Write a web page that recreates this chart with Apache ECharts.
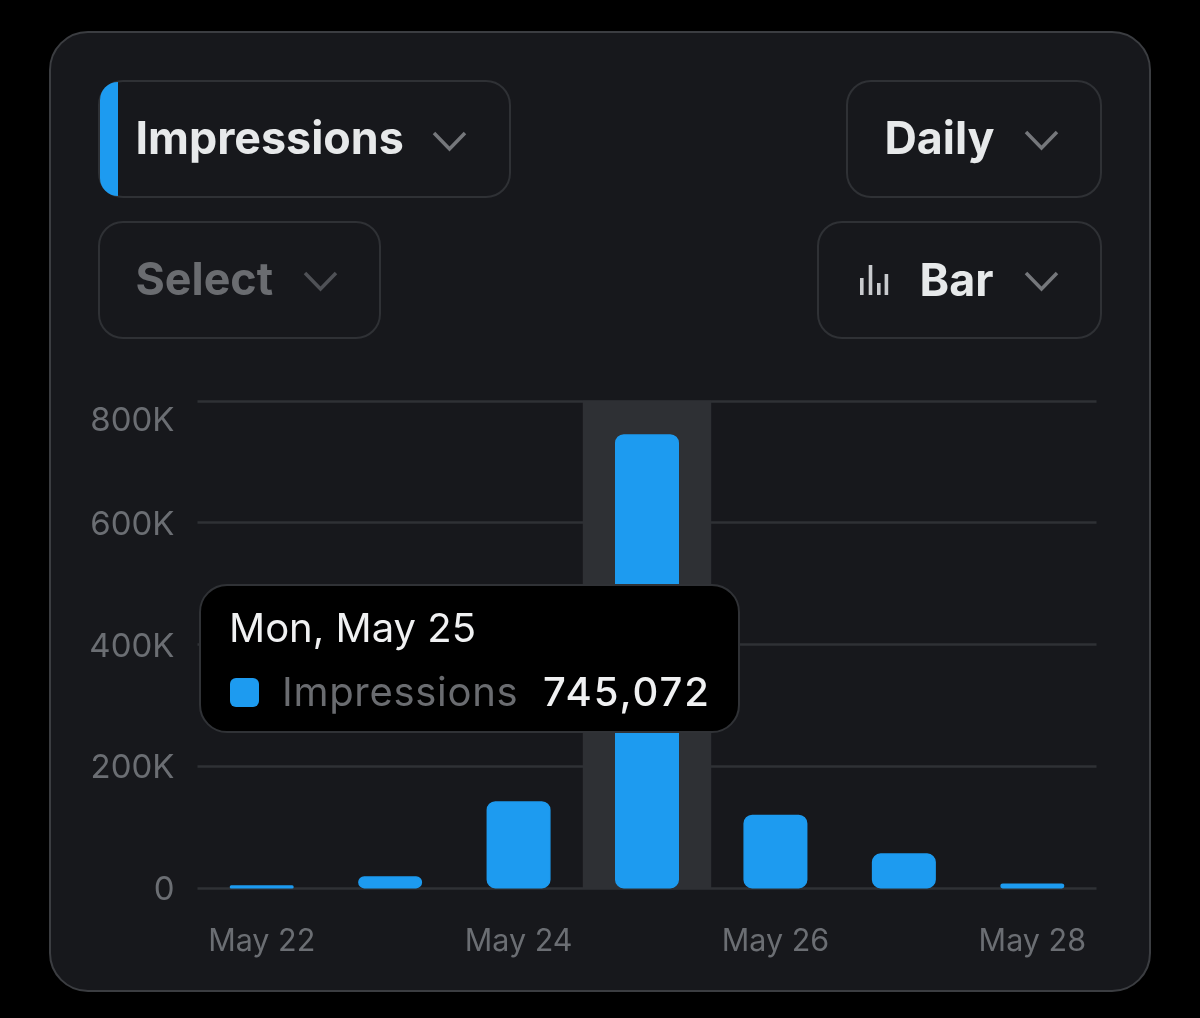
<!DOCTYPE html>
<html>
<head>
<meta charset="utf-8">
<style>html,body{margin:0;padding:0;background:#000}#c{width:1200px;height:1018px}</style>
<script src="https://cdn.jsdelivr.net/npm/echarts@6/dist/echarts.min.js"></script>
</head>
<body>
<div id="c"></div>
<script>
const categories = ['May 22','May 23','May 24','May 25','May 26','May 27','May 28'];
const impressions = [5000,20000,143000,745072,121000,57500,8000];
const yTickLabels = ['0','200K','400K','600K','800K'];
const seriesName = 'Impressions';
const tooltipTitle = 'Mon, May 25';
const activeIndex = 3;
const dropdownLabels = ['Impressions','Select','Daily','Bar'];

const FONT = 'Inter, "Noto Sans", sans-serif';
const BLUE = '#1d9bf0';
const box = (x,y,w,h) => ({type:'rect',silent:true,shape:{x,y,width:w,height:h,r:24},style:{fill:'#17181c',stroke:'#2f3135',lineWidth:2}});
const label = (t,x,y,fill) => ({type:'text',silent:true,x,y,style:{text:t,fill,font:'700 44.8px '+FONT,textVerticalAlign:'middle'}});
const chev = (x,y,stroke) => ({type:'polyline',silent:true,shape:{points:[[x,y],[x+15.5,y+16],[x+31,y]]},style:{stroke,lineWidth:3.5,fill:null}});
const iconBar = (x,top) => ({type:'rect',silent:true,shape:{x,y:top,width:3.6,height:295-top},style:{fill:'#c9cbce'}});
const tickText = {color:'#6b6e73',fontFamily:FONT,fontSize:33};

const chart = echarts.init(document.getElementById('c'),null,{width:1200,height:1018});
chart.setOption({
  animation:false,
  backgroundColor:'#000',
  graphic:{elements:[
    {type:'rect',silent:true,z:-10,shape:{x:50,y:32,width:1100,height:959,r:38},style:{fill:'#17181c',stroke:'#3b3d41',lineWidth:2}},
    box(99,81,411,116), box(99,222,281,116), box(847,81,254,116), box(818,222,283,116),
    {type:'rect',silent:true,shape:{x:100,y:82,width:18,height:114,r:[22,0,0,22]},style:{fill:BLUE}},
    label(dropdownLabels[0],135.5,141,'#e7e9ea'),
    label(dropdownLabels[1],135.5,282,'#6a6c70'),
    label(dropdownLabels[2],884.5,141,'#e7e9ea'),
    label(dropdownLabels[3],919.5,283,'#e7e9ea'),
    chev(434,133,'#75777b'), chev(305,273,'#4f5156'), chev(1026,132,'#75777b'), chev(1026,273,'#75777b'),
    iconBar(860,278), iconBar(868.7,265), iconBar(877,283), iconBar(884.6,274)
  ]},
  grid:{left:197.5,top:400.8,width:899,height:487.6,containLabel:false},
  xAxis:{type:'category',data:categories,
    axisLine:{show:false},axisTick:{show:false},
    axisLabel:{interval:1,color:'#6b6e73',fontFamily:FONT,fontSize:30.5,margin:35,lineHeight:36}},
  yAxis:{type:'value',min:0,max:800000,interval:200000,
    axisLine:{show:false},axisTick:{show:false},
    splitLine:{show:true,lineStyle:{color:'#2f3135',width:2.5}},
    axisLabel:{...tickText,margin:23,
      rich:{a:{...tickText,padding:[4,0,0,0]},top:{...tickText,padding:[40,0,0,0]}},
      formatter:(v)=>{const i=Math.round(v/200000);return `{${i===yTickLabels.length-1?'top':'a'}|${yTickLabels[i]}}`;}}},
  tooltip:{show:true,trigger:'axis',triggerOn:'none',alwaysShowContent:true,transitionDuration:0,
    axisPointer:{type:'shadow',z:1,animation:false,shadowStyle:{color:'#2e3034',opacity:1}},
    position:()=>[199,584],
    backgroundColor:'#000',borderColor:'#303236',borderWidth:2,padding:0,
    extraCssText:'box-sizing:border-box;width:541px;height:149px;border-radius:28px;box-shadow:none;',
    formatter:(ps)=>{
      const v=ps[0].value.toLocaleString('en-US');
      return `<div style="position:relative;width:537px;height:145px;font-family:Inter,sans-serif">
        <div style="position:absolute;left:28px;top:19px;font-size:40px;line-height:46px;color:#f0f1f2">${tooltipTitle}</div>
        <div style="position:absolute;left:29px;top:92px;width:29px;height:29px;border-radius:6px;background:${BLUE}"></div>
        <div style="position:absolute;left:81px;top:83px;font-size:40px;line-height:46px;letter-spacing:0.7px;color:#6a6c70">${ps[0].seriesName}</div>
        <div style="position:absolute;right:27px;top:83px;font-size:40px;line-height:46px;letter-spacing:2px;font-weight:500;color:#f0f1f2">${v}</div>
      </div>`;
    }},
  series:[{name:seriesName,type:'bar',data:impressions,barWidth:64,
    emphasis:{disabled:true},
    itemStyle:{color:BLUE,borderColor:BLUE,borderWidth:1.5,borderRadius:8}}]
});
chart.dispatchAction({type:'showTip',seriesIndex:0,dataIndex:activeIndex});
</script>
</body>
</html>
